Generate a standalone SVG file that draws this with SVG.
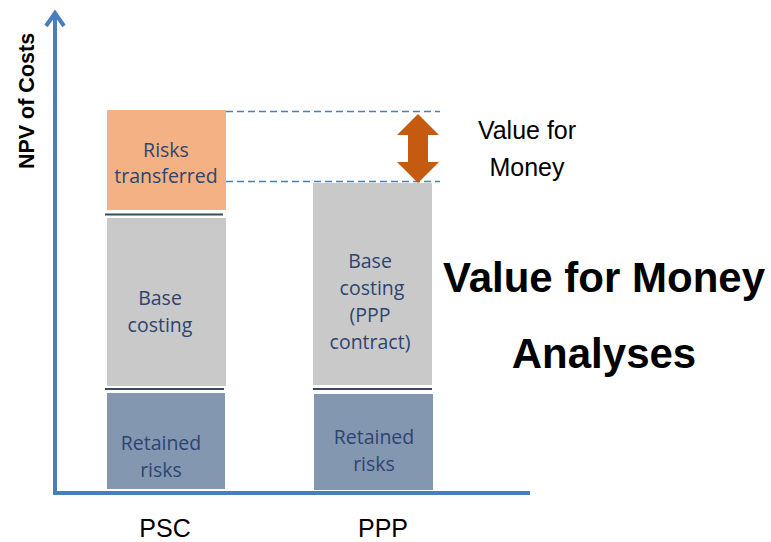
<svg xmlns="http://www.w3.org/2000/svg" width="771" height="542" viewBox="0 0 771 542">
<style>
.lbl{font-family:"Open Sans","Liberation Sans",sans-serif;font-size:19.5px;fill:#2E4470;text-anchor:middle}
.cat{font-family:"Liberation Sans",Arial,sans-serif;font-size:25px;fill:#000;text-anchor:middle}
.big{font-family:"Liberation Sans",Arial,sans-serif;font-size:42px;font-weight:bold;fill:#000;text-anchor:middle}
.sep{stroke:#3A4A60;stroke-width:2}
.dash{stroke:#4A7EBB;stroke-width:1.4;stroke-dasharray:7,4}
.axis{stroke:#4A7EBB;stroke-width:4;fill:none}
</style>
<rect width="771" height="542" fill="#fff"/>
<g id="axes">
<polyline class="axis" points="55,16 55,493 530,493"/>
<polyline class="axis" points="46,26 55,13 64,26" stroke-linejoin="miter"/>
<text x="0" y="0" transform="translate(34,101) rotate(-90)" font-family="Liberation Sans,Arial,sans-serif" font-size="21.5" font-weight="bold" text-anchor="middle" fill="#000">NPV of Costs</text>
</g>
<g id="psc-risks-transferred">
<rect x="107" y="110" width="119" height="100" fill="#F4B183"/>
<text class="lbl" x="166" y="157">Risks</text>
<text class="lbl" x="166" y="183">transferred</text>
</g>
<g id="psc-base">
<rect x="107" y="218" width="119" height="168" fill="#C9C9C9"/>
<text class="lbl" x="160" y="305">Base</text>
<text class="lbl" x="160" y="332">costing</text>
</g>
<g id="psc-retained">
<rect x="107" y="393" width="118" height="96" fill="#8497B0"/>
<text class="lbl" x="161" y="450">Retained</text>
<text class="lbl" x="161" y="477">risks</text>
</g>
<g id="ppp-base">
<rect x="313" y="183" width="119" height="202" fill="#C9C9C9"/>
<text class="lbl" x="370" y="268">Base</text>
<text class="lbl" x="372" y="295">costing</text>
<text class="lbl" x="370" y="322">(PPP</text>
<text class="lbl" x="370" y="349">contract)</text>
</g>
<g id="ppp-retained">
<rect x="314" y="394" width="119" height="96" fill="#8497B0"/>
<text class="lbl" x="374" y="444">Retained</text>
<text class="lbl" x="374" y="471">risks</text>
</g>
<g id="connectors">
<line class="sep" x1="105" y1="214.5" x2="223" y2="214.5"/>
<line class="sep" x1="105" y1="389" x2="224" y2="389"/>
<line class="sep" x1="313" y1="389" x2="432" y2="389"/>
<line class="dash" x1="226" y1="111.5" x2="440" y2="111.5"/>
<line class="dash" x1="226" y1="181.5" x2="440" y2="181.5"/>
<polygon points="418,114 439,135 428,135 428,162 439,162 418,183 397,162 408,162 408,135 397,135" fill="#C55A11"/>
</g>
<g id="vfm-label">
<text class="cat" x="527" y="139">Value for</text>
<text class="cat" x="527" y="176">Money</text>
</g>
<g id="title">
<text class="big" x="604" y="292">Value for Money</text>
<text class="big" x="604" y="368">Analyses</text>
</g>
<g id="categories">
<text class="cat" x="165" y="537">PSC</text>
<text class="cat" x="383" y="537">PPP</text>
</g>
</svg>
